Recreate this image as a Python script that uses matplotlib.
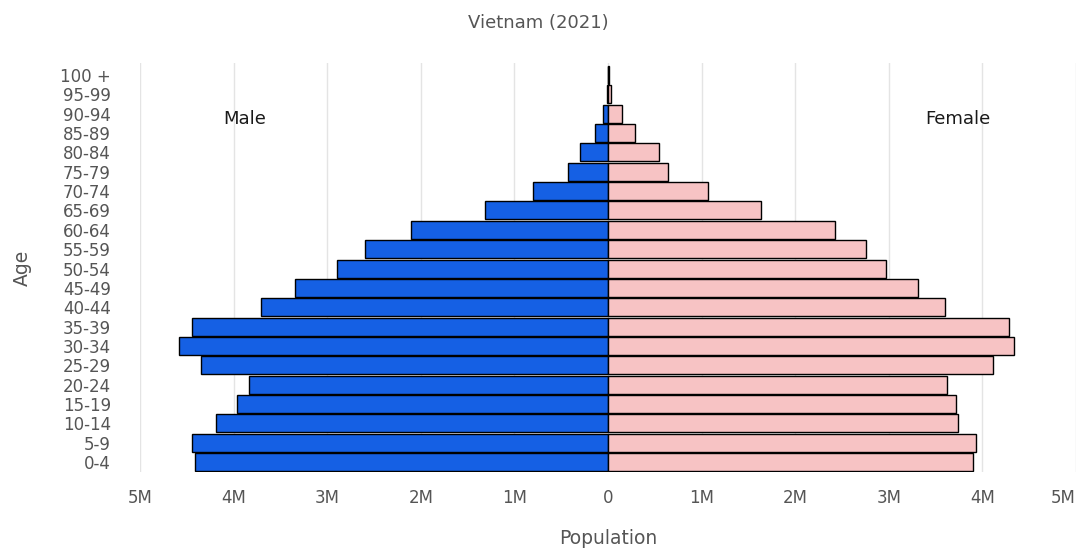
import matplotlib
matplotlib.use("Agg")
import matplotlib.pyplot as plt
import numpy as np

plt.rcParams['font.family'] = ['DejaVu Sans']

# Vietnam 2021 population by age group (millions)
age_groups = ['0-4', '5-9', '10-14', '15-19', '20-24', '25-29', '30-34', '35-39',
              '40-44', '45-49', '50-54', '55-59', '60-64', '65-69', '70-74',
              '75-79', '80-84', '85-89', '90-94', '95-99', '100 +']
male = [4.41, 4.44, 4.19, 3.96, 3.84, 4.35, 4.58, 4.44, 3.71, 3.34, 2.90,
        2.60, 2.10, 1.31, 0.80, 0.43, 0.30, 0.14, 0.05, 0.012, 0.004]
female = [3.90, 3.93, 3.74, 3.72, 3.62, 4.11, 4.34, 4.28, 3.60, 3.31, 2.97,
          2.76, 2.43, 1.63, 1.07, 0.64, 0.54, 0.29, 0.15, 0.03, 0.008]
x_ticks = [-5, -4, -3, -2, -1, 0, 1, 2, 3, 4, 5]
x_tick_labels = ['5M', '4M', '3M', '2M', '1M', '0', '1M', '2M', '3M', '4M', '5M']

text_gray = '#555555'

fig = plt.figure(figsize=(10.77, 5.5), dpi=100)
ax = fig.add_axes([0.130, 0.142, 0.869, 0.743])

y = np.arange(len(age_groups))
ax.barh(y, -np.array(male), height=0.93, color='#1560e4', edgecolor='black', linewidth=1.0, zorder=3)
ax.barh(y, female, height=0.93, color='#f7c3c4', edgecolor='black', linewidth=1.0, zorder=3)

ax.set_xlim(-5, 5)
ax.set_ylim(-0.5, 20.6)
ax.set_xticks(x_ticks)
ax.set_xticklabels(x_tick_labels)
ax.get_xticklabels()[-1].set_horizontalalignment('right')
ax.set_yticks(y)
ax.set_yticklabels(age_groups)

ax.tick_params(axis='x', length=0, pad=12, labelsize=12, labelcolor=text_gray)
ax.tick_params(axis='y', length=0, pad=21, labelsize=12, labelcolor=text_gray)
ax.grid(axis='x', color='#e4e4e4', linewidth=1.0, zorder=0)
ax.grid(axis='y', visible=False)
for s in ax.spines.values():
    s.set_visible(False)

ax.set_xlabel('Population', fontsize=13.5, color=text_gray, labelpad=16)
ax.set_ylabel('Age', fontsize=13.5, color=text_gray, labelpad=20)
fig.text(0.5, 0.958, 'Vietnam (2021)', ha='center', va='center', fontsize=13, color=text_gray)

ax.text(-3.88, 17.7, 'Male', ha='center', va='center', fontsize=13, color='#1a1a1a')
ax.text(3.74, 17.7, 'Female', ha='center', va='center', fontsize=13, color='#1a1a1a')

fig.savefig('out.png', dpi=100, facecolor='white')
